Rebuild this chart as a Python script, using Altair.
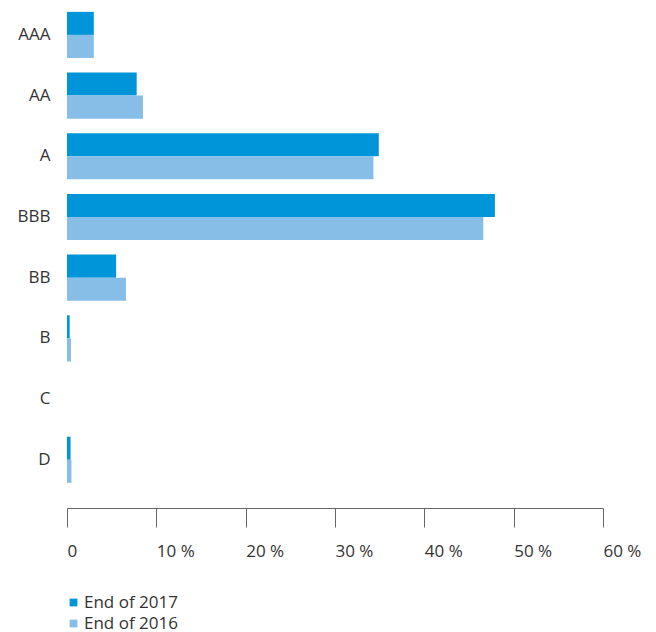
import altair as alt
import pandas as pd

ratings = ["AAA", "AA", "A", "BBB", "BB", "B", "C", "D"]
end_2017 = [3.0, 7.8, 34.9, 47.9, 5.5, 0.3, 0.0, 0.4]
end_2016 = [3.0, 8.5, 34.3, 46.6, 6.6, 0.45, 0.0, 0.5]
series = ["End of 2017", "End of 2016"]
x_ticks = [0, 10, 20, 30, 40, 50, 60]

rows = []
for r, a, b in zip(ratings, end_2017, end_2016):
    rows.append({"rating": r, "series": series[0], "value": a})
    rows.append({"rating": r, "series": series[1], "value": b})
df = pd.DataFrame(rows)

FONT = "Open Sans"

chart = alt.Chart(df).mark_bar().encode(
    y=alt.Y("rating:N", sort=ratings,
            scale=alt.Scale(paddingInner=0.24, paddingOuter=0.305, align=0.32),
            axis=alt.Axis(title=None, domain=False, ticks=False, labelPadding=17,
                          labelFontSize=17, labelColor="#333333", labelFont=FONT,
                          labelBaseline="middle")),
    yOffset=alt.YOffset("series:N", sort=series),
    x=alt.X("value:Q",
            scale=alt.Scale(domain=[0, 60], nice=False),
            axis=alt.Axis(title=None, values=x_ticks, grid=False,
                          domainColor="#666666", tickColor="#666666", tickSize=19,
                          labelAlign="left", labelPadding=16, labelFontSize=17,
                          labelColor="#333333", labelFont=FONT,
                          labelExpr="datum.value == 0 ? '0' : datum.value + ' %'")),
    color=alt.Color("series:N", sort=series,
                    scale=alt.Scale(domain=series, range=["#0095d8", "#86bee8"]),
                    legend=alt.Legend(title=None, orient="none", legendX=-2, legendY=594,
                                      symbolType="square", symbolSize=60,
                                      symbolStrokeWidth=0, labelFontSize=17,
                                      labelColor="#333333", labelFont=FONT,
                                      rowPadding=3, labelOffset=2)),
).properties(
    width=536, height=508,
    padding={"left": 67, "top": 0, "right": 53, "bottom": 124},
    autosize=alt.AutoSizeParams(type="none"),
).configure_view(stroke=None)

chart.save("out.html", embed_options={"renderer": "svg", "actions": False})
